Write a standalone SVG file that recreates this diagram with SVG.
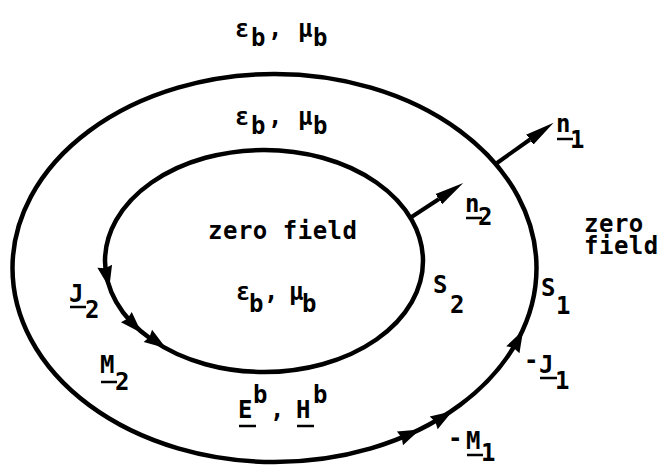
<svg xmlns="http://www.w3.org/2000/svg" width="665" height="467" viewBox="0 0 665 467">
<style>
.t{font-family:"DejaVu Sans Mono","Liberation Mono",monospace;font-weight:bold;font-size:24px;fill:#000}
.c{fill:none;stroke:#000;stroke-width:4.5}
.u{stroke:#000;stroke-width:2.5}
.ah{fill:#000}
</style>
<defs>
<path id="ah" d="M11,0 L-11,-7.5 L-9,0 L-11,7.5 Z"/>
<marker id="nh" markerUnits="userSpaceOnUse" markerWidth="32" markerHeight="16" viewBox="0 -8 32 16" refX="0" refY="0" orient="auto">
<path d="M-2,-6.5 L29,0 L-2,6.5 Z" fill="#000"/>
</marker>
</defs>
<rect width="665" height="467" fill="#fff"/>

<g id="outer-surface-S1">
<ellipse class="c" cx="274.5" cy="268" rx="262" ry="194"/>
<use href="#ah" class="ah" transform="translate(518,340) rotate(-62)"/>
<use href="#ah" class="ah" transform="translate(443,417) rotate(-32)"/>
<use href="#ah" class="ah" transform="translate(410,434) rotate(-24)"/>
</g>

<g id="inner-surface-S2">
<ellipse class="c" cx="264" cy="261" rx="159" ry="111"/>
<use href="#ah" class="ah" transform="translate(107,277) rotate(78)"/>
<use href="#ah" class="ah" transform="translate(134,325) rotate(46)"/>
<use href="#ah" class="ah" transform="translate(157,342) rotate(34)"/>
</g>

<g id="connectors">
<line x1="497" y1="163" x2="530" y2="139.5" stroke="#000" stroke-width="4" marker-end="url(#nh)"/>
<line x1="410" y1="218" x2="439" y2="199" stroke="#000" stroke-width="4" marker-end="url(#nh)"/>
</g>

<g id="label-outside-medium">
<text class="t" y="37"><tspan x="235">ε</tspan><tspan x="251" dy="9">b</tspan><tspan x="268" dy="-9">,</tspan><tspan x="298">μ</tspan><tspan x="313" dy="9">b</tspan></text>
</g>
<g id="label-between-medium">
<text class="t" y="125"><tspan x="235">ε</tspan><tspan x="251" dy="9">b</tspan><tspan x="268" dy="-9">,</tspan><tspan x="298">μ</tspan><tspan x="313" dy="9">b</tspan></text>
</g>
<g id="label-inner">
<text class="t" x="208" y="239" letter-spacing="0.5">zero field</text>
<text class="t" y="300"><tspan x="236">ε</tspan><tspan x="249" dy="12">b</tspan><tspan x="264" dy="-12">,</tspan><tspan x="289">μ</tspan><tspan x="302" dy="12">b</tspan></text>
</g>
<g id="label-right">
<text class="t" letter-spacing="0.5"><tspan x="584" y="232">zero</tspan><tspan x="584" y="254">field</tspan></text>
</g>
<g id="label-S2">
<text class="t" y="293"><tspan x="433">S</tspan><tspan x="450" y="313">2</tspan></text>
</g>
<g id="label-S1">
<text class="t" y="296"><tspan x="541">S</tspan><tspan x="556" y="314">1</tspan></text>
</g>
<g id="label-n1">
<text class="t" y="132"><tspan x="556">n</tspan><tspan x="570" y="148">1</tspan></text>
<line class="u" x1="557" y1="139" x2="573" y2="139"/>
</g>
<g id="label-n2">
<text class="t" y="212"><tspan x="465">n</tspan><tspan x="478" y="225">2</tspan></text>
<line class="u" x1="466" y1="218" x2="482" y2="218"/>
</g>
<g id="label-J2">
<text class="t" y="302"><tspan x="69">J</tspan><tspan x="85" y="318">2</tspan></text>
<line class="u" x1="70" y1="307" x2="86" y2="307"/>
</g>
<g id="label-M2">
<text class="t" y="373"><tspan x="100">M</tspan><tspan x="115" y="390">2</tspan></text>
<line class="u" x1="101" y1="382" x2="117" y2="382"/>
</g>
<g id="label-EH">
<text class="t" y="418"><tspan x="238">E</tspan><tspan x="253" y="403">b</tspan><tspan x="270" y="418">,</tspan><tspan x="296">H</tspan><tspan x="313" y="403">b</tspan></text>
<line class="u" x1="239" y1="426" x2="256" y2="426"/>
<line class="u" x1="297" y1="426" x2="314" y2="426"/>
</g>
<g id="label-J1">
<text class="t" y="373"><tspan x="524" y="368">-</tspan><tspan x="539" y="373">J</tspan><tspan x="555" y="389">1</tspan></text>
<line class="u" x1="540" y1="378" x2="557" y2="378"/>
</g>
<g id="label-M1">
<text class="t" y="450"><tspan x="448" y="446">-</tspan><tspan x="466" y="449">M</tspan><tspan x="481" y="461">1</tspan></text>
<line class="u" x1="467" y1="455" x2="483" y2="455"/>
</g>
</svg>
